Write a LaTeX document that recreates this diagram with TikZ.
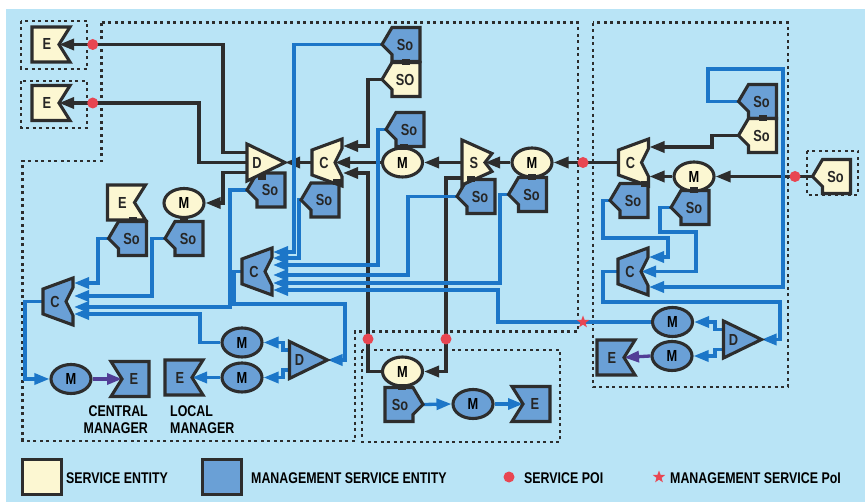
\documentclass[tikz,border=0pt]{standalone}
\usepackage{fontspec}
\setmainfont{Liberation Sans}[FakeStretch=0.8]
\usetikzlibrary{arrows.meta,shapes.geometric}
\definecolor{bgc}{RGB}{185,228,246}
\definecolor{cream}{RGB}{252,247,210}
\definecolor{mg}{RGB}{106,160,214}
\definecolor{bl}{RGB}{28,118,200}
\definecolor{dk}{RGB}{45,45,45}
\definecolor{rd}{RGB}{232,70,82}
\definecolor{pu}{RGB}{82,62,150}
\pgfdeclarelayer{back}
\pgfdeclarelayer{wires}
\pgfsetlayers{back,wires,main}

\newcommand\shER[4]{\begin{scope}[shift={(#3,#4)}]
 \draw[#2] (-19,-17.5) -- (19,-17.5) -- (8,0) -- (19,17.5) -- (-19,17.5) -- cycle;
 \node[lbl] (#1) at (-4,0) {E};
 \coordinate (#1-in) at (8,0);
 \end{scope}}
\newcommand\shEL[4]{\begin{scope}[shift={(#3,#4)}]
 \draw[#2] (-19,-17.5) -- (19,-17.5) -- (19,17.5) -- (-19,17.5) -- (-8,0) -- cycle;
 \node[lbl] (#1) at (4,0) {E};
 \coordinate (#1-in) at (-8,0);
 \end{scope}}
\newcommand\shSoL[5]{\begin{scope}[shift={(#3,#4)}]
 \draw[#2] (-9,-17) -- (19,-17) -- (19,17) -- (-9,17) -- (-9,10) -- (-19,0) -- cycle;
 \node[lbl] (#1) at (4,0) {#5};
 \coordinate (#1-tip) at (-19,0);
 \end{scope}}
\newcommand\shSoR[5]{\begin{scope}[shift={(#3,#4)}]
 \draw[#2] (9,-17) -- (-19,-17) -- (-19,17) -- (9,17) -- (9,10) -- (19,0) -- cycle;
 \node[lbl] (#1) at (-4,0) {#5};
 \coordinate (#1-tip) at (19,0);
 \end{scope}}
\newcommand\shC[4]{\begin{scope}[shift={(#3,#4)}]
 \draw[#2] (-15,-12.5) -- (15,-23.5) -- (15,-14) -- (8,0) -- (15,14) -- (15,23.5) -- (-15,12.5) -- cycle;
 \node[lbl] (#1) at (-3,0) {C};
 \coordinate (#1-in) at (8,0);
 \coordinate (#1-out) at (-15,0);
 \coordinate (#1-r) at (16,0);
 \end{scope}}
\newcommand\shS[4]{\begin{scope}[shift={(#3,#4)}]
 \draw[#2] (-15,-22.5) -- (15,-9) -- (8,0) -- (15,9) -- (-15,22.5) -- cycle;
 \node[lbl] (#1) at (-3,0) {S};
 \coordinate (#1-in) at (8,0);
 \coordinate (#1-out) at (-15,0);
 \coordinate (#1-out2) at (-15,15.5);
 \end{scope}}
\newcommand\shD[4]{\begin{scope}[shift={(#3,#4)}]
 \draw[#2] (-19,-18.5) -- (19,0) -- (-19,18.5) -- cycle;
 \node[lbl] (#1) at (-9,0) {D};
 \coordinate (#1-tip) at (19,0);
 \coordinate (#1-o1) at (-19,-10);
 \coordinate (#1-o2) at (-19,0);
 \coordinate (#1-o3) at (-19,10);
 \end{scope}}
\newcommand\shM[4]{\node[ellipse, minimum width=40pt, minimum height=29pt, inner sep=0pt, #2] (#1) at (#3,#4) {M};}

\begin{document}
\begin{tikzpicture}[x=1pt,y=-1pt,
  font=\fontsize{16}{17}\selectfont\bfseries,
  ol/.style={draw=dk, line width=3.1pt, line join=miter, miter limit=4},
  svc/.style={ol, fill=cream},
  mgt/.style={ol, fill=mg},
  lbl/.style={inner sep=0pt, text=black!85},
  sline/.style={draw=dk, line width=3.3pt},
  mline/.style={draw=bl, line width=3.3pt},
  arr/.style={-{Triangle[length=15pt,width=11pt]}},
  dotbox/.style={draw=dk, line width=2.5pt, dash pattern=on 3pt off 3.5pt},
  sqr/.style={fill=dk, minimum width=8pt, minimum height=6pt, inner sep=0pt},
  rdot/.style={circle, fill=rd, minimum size=11pt, inner sep=0pt},
  rstar/.style={star, star points=5, star point ratio=2.4, fill=rd, minimum size=13pt, inner sep=0pt},
  legtxt/.style={anchor=base west, inner sep=0pt, font=\fontsize{15.5}{16}\selectfont\bfseries}
]
\useasboundingbox (0,0) rectangle (865,502);
\begin{pgfonlayer}{back}
 \fill[white] (0,0) rectangle (865,502);
 \fill[bgc] (6,9) rectangle (865,502);
\end{pgfonlayer}

% ---------- service entities and management entities ----------
\shER{e1}{svc}{51}{44.5}
\shER{e2}{svc}{51}{103}
\shSoL{sh}{mgt}{127.5}{238.5}{So}
\shER{e3}{svc}{126.5}{202.5}
\shSoL{si}{mgt}{184}{238.5}{So}
\shM{m1}{svc}{184}{203}
\shSoL{sd}{mgt}{266}{190}{So}
\shD{d1}{svc}{266}{162.5}
\shSoL{se}{mgt}{320}{200}{So}
\shC{c1}{svc}{327}{162.5}
\shSoL{sa}{mgt}{401}{44.5}{So}
\shSoL{sb}{svc}{401}{79.5}{SO}
\shSoL{sc}{mgt}{405}{129.5}{So}
\shM{m2}{svc}{402.5}{162.5}
\shSoL{sf}{mgt}{476}{196.5}{So}
\shS{s1}{svc}{477}{162.5}
\shSoL{sg}{mgt}{527.5}{194.5}{So}
\shM{m3}{svc}{532}{162.5}
\shSoL{sk}{mgt}{629}{200.5}{So}
\shC{c4}{svc}{633.5}{162.5}
\shSoL{sl}{mgt}{690}{207.5}{So}
\shM{m9}{svc}{694}{176.5}
\shSoL{sm}{mgt}{757.5}{101.5}{So}
\shSoL{sn}{svc}{757.5}{135.5}{So}
\shSoL{sx}{svc}{831.5}{176.5}{So}
\shC{c2}{mgt}{257}{271.5}
\shC{c3}{mgt}{58}{301.5}
\shM{m4}{mgt}{71}{379}
\shEL{e4}{mgt}{130}{379}
\shER{e5}{mgt}{184}{377.5}
\shM{m5}{mgt}{242}{342.5}
\shM{m6}{mgt}{242}{377.5}
\shD{d2}{mgt}{308.5}{360}
\shM{m7}{svc}{402.5}{371.5}
\shSoR{sj}{mgt}{404}{404.5}{So}
\shM{m8}{mgt}{473}{404}
\shEL{e6}{mgt}{531}{404}
\shC{c5}{mgt}{633}{271.5}
\shD{d3}{mgt}{742.5}{339.5}
\shM{m10}{mgt}{672.5}{322}
\shM{m11}{mgt}{672}{356}
\shER{e7}{mgt}{616}{357.5}

% connector squares
\foreach \p [count=\i] in {(406,62),(404,147),(262,177),(337,182),(471,179),(532,177.5),(645,184),(694,190.5),(763,118.5),(133,220.5),(184,219.5),(402,387)}
  \node[sqr] (q\i) at \p {};

\begin{pgfonlayer}{wires}
 % dotted domains
 \draw[dotbox] (21,21) rectangle (87,69);
 \draw[dotbox] (21,81) rectangle (87,128);
 \draw[dotbox] (101.7,22.7) -- (578,22.7) -- (578,331.7) -- (355,331.7) -- (355,441) -- (22.7,441) -- (22.7,161) -- (101.7,161) -- cycle;
 \draw[dotbox] (362,350) rectangle (560,442);
 \draw[dotbox] (593,22.7) rectangle (788,387);
 \draw[dotbox] (807,151) rectangle (858,195);

 % service connectors
 \draw[sline,arr] (d1-o1) -| (223,44.5) -- (e1-in);
 \draw[sline,arr] (d1-o2) -| (199,103) -- (e2-in);
 \draw[sline,arr] (d1-o3) -| (223,203) -- (m1.east);
 \draw[sline,arr] (c1-out) -- (d1-tip);
 \draw[sline,arr] (sb-tip) -| (368,146) -- (c1-r |- 0,146);
 \draw[sline,arr] (m2.west) -- (c1-in);
 \draw[sline,arr] (m7.west) -| (368,173) -- (c1-r |- 0,173);
 \draw[sline,arr] (s1-out) -- (m2.east);
 \draw[sline,arr] (s1-out2) -| (446,371.5) -- (m7.east);
 \draw[sline,arr] (m3.west) -- (s1-in);
 \draw[sline,arr] (c4-out) -- (m3.east);
 \draw[sline,arr] (sn-tip) -| (712,147) -- (c4-r |- 0,147);
 \draw[sline,arr] (m9.west) -- (c4-r |- m9.west);
 \draw[sline,arr] (sx-tip) -- (m9.east);

 % management connectors
 \draw[mline,arr] (sa-tip) -| (294,252) -- (c2-r |- 0,252);
 \draw[mline,arr] (se-tip) -| (299,258) -- (c2-r |- 0,258);
 \draw[mline,arr] (sc-tip) -| (378,265) -- (c2-r |- 0,265);
 \draw[mline,arr] (sf-tip) -| (408,275) -- (c2-r |- 0,275);
 \draw[mline,arr] (sg-tip) -| (500,283) -- (c2-r |- 0,283);
 \draw[mline,arr] (m10.west) -| (498,290) -- (c2-r |- 0,290);
 \draw[mline,arr] (sh-tip) -| (98,283) -- (c3-r |- 0,283);
 \draw[mline,arr] (si-tip) -| (152,296) -- (c3-r |- 0,296);
 \draw[mline,arr] (sd-tip) -| (230,307) -- (c3-r |- 0,307);
 \draw[mline,arr] (m5.west) -| (200,314) -- (c3-r |- 0,314);
 \draw[mline,arr] (c3-out) -| (25,379) -- (m4.west);
 \draw[mline,arr,draw=pu] (m4.east) -- (e4-in);
 \draw[mline,arr] (m6.west) -- (e5-in);
 \draw[mline,arr] (c2-out) -| (234,304) -| (345,360) -- (d2-tip);
 \draw[mline,arr] (d2-o1) -| (283,342.5) -- (m5.east);
 \draw[mline,arr] (d2-o3) -| (283,377.5) -- (m6.east);
 \draw[mline,arr] (sj-tip) -- (m8.west);
 \draw[mline,arr] (m8.east) -- (e6-in);
 \draw[mline,arr] (sm-tip) -| (708,69) -| (783,287) -- (c5-r |- 0,287);
 \draw[mline,arr] (sk-tip) -| (603,238) -| (668,257) -- (c5-r |- 0,257);
 \draw[mline,arr] (sl-tip) -| (660,232) -| (696,271.5) -- (c5-in);
 \draw[mline,arr] (c5-out) -| (603,302) -| (780,339.5) -- (d3-tip);
 \draw[mline,arr] (d3-o1) -| (715,322) -- (m10.east);
 \draw[mline,arr] (d3-o3) -| (715,356) -- (m11.east);
 \draw[mline,arr,draw=pu] (m11.west) -- (e7-in);
\end{pgfonlayer}

% points of interconnection
\node[rdot] (p1) at (92.7,44.5) {};
\node[rdot] (p2) at (92.7,103) {};
\node[rdot] (p3) at (583,162.5) {};
\node[rdot] (p4) at (795,176.5) {};
\node[rdot] (p5) at (368,339) {};
\node[rdot] (p6) at (446,339) {};
\node[rstar] (p7) at (583,322) {};

% manager labels
\node[anchor=base east, inner sep=0pt, font=\fontsize{15.5}{16}\selectfont\bfseries] (cm1) at (148,417) {CENTRAL};
\node[anchor=base east, inner sep=0pt, font=\fontsize{15.5}{16}\selectfont\bfseries] (cm2) at (148,433.5) {MANAGER};
\node[anchor=base west, inner sep=0pt, font=\fontsize{15.5}{16}\selectfont\bfseries] (lm1) at (170,417) {LOCAL};
\node[anchor=base west, inner sep=0pt, font=\fontsize{15.5}{16}\selectfont\bfseries] (lm2) at (170,433.5) {MANAGER};

% legend
\draw[svc, line width=3pt] (22,459) rectangle (61,494);
\node[legtxt] (l1) at (66,483) {SERVICE ENTITY};
\draw[mgt, line width=3pt] (202,459) rectangle (241,494);
\node[legtxt] (l2) at (251,483) {MANAGEMENT SERVICE ENTITY};
\node[rdot] (l3d) at (509,477) {};
\node[legtxt] (l3) at (524,483) {SERVICE POI};
\node[rstar] (l4s) at (659,477) {};
\node[legtxt] (l4) at (670,483) {MANAGEMENT SERVICE PoI};
\end{tikzpicture}
\end{document}
